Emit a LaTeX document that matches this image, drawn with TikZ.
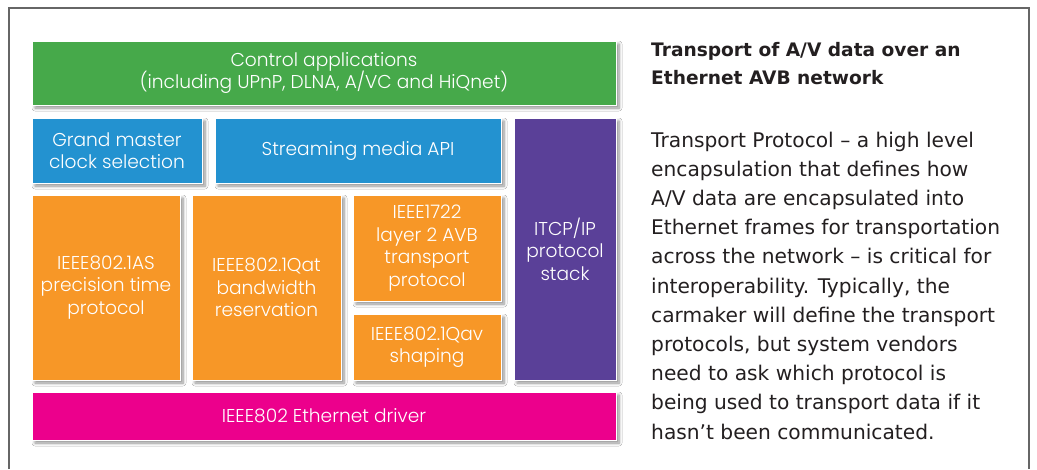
\documentclass[tikz,border=0pt]{standalone}
\usepackage{fontspec}
\setmainfont{DejaVu Sans}
\newfontfamily\boxfont{Poppins Light}
\usetikzlibrary{shadows.blur}
\definecolor{cgreen}{HTML}{46A94A}
\definecolor{cblue}{HTML}{2392D0}
\definecolor{cpurple}{HTML}{5A4098}
\definecolor{corange}{HTML}{F79727}
\definecolor{cmagenta}{HTML}{EC008C}
\definecolor{cframe}{HTML}{666666}
\definecolor{ctxt}{HTML}{231F20}
\begin{document}
\begin{tikzpicture}[x=1pt,y=-1pt,
  layer/.style={draw=white, line width=1pt, inner sep=0pt, outer sep=0pt,
    text=white, align=center, font=\boxfont\fontsize{18.6}{22.5}\selectfont,
    blur shadow={shadow xshift=3pt, shadow yshift=-3pt, shadow blur steps=6,
      shadow blur radius=3pt, shadow opacity=45}},
  caption/.style={anchor=north west, align=left, inner sep=0pt, text=ctxt}
]
\useasboundingbox (0,0) rectangle (1037,469);
\fill[white] (0,0) rectangle (1037,469);
\draw[cframe, line width=2pt] (9,469) -- (9,8) -- (1029,8) -- (1029,469);

\node[layer, fill=cgreen, minimum width=584pt, minimum height=64pt] (ctrl) at (324,73)
  {Control applications\\(including UPnP, DLNA, A/VC and HiQnet)};
\node[layer, fill=cblue, minimum width=170pt, minimum height=65pt] (gm) at (117,150.5)
  {Grand master\\clock selection};
\node[layer, fill=cblue, minimum width=286pt, minimum height=65pt] (api) at (358,150.5)
  {Streaming media API};
\node[layer, fill=cpurple, minimum width=102pt, minimum height=262pt] (itcp) at (565,249)
  {ITCP/IP\\protocol\\stack};
\node[layer, fill=corange, minimum width=148pt, minimum height=185pt] (as) at (106,287.5)
  {IEEE802.1AS\\precision time\\protocol};
\node[layer, fill=corange, minimum width=149pt, minimum height=185pt] (qat) at (266.5,287.5)
  {IEEE802.1Qat\\bandwidth\\reservation};
\node[layer, fill=corange, minimum width=148pt, minimum height=106pt] (avtp) at (427,248)
  {IEEE1722\\layer 2 AVB\\transport\\protocol};
\node[layer, fill=corange, minimum width=148pt, minimum height=66pt] (qav) at (427,347)
  {IEEE802.1Qav\\shaping};
\node[layer, fill=cmagenta, minimum width=584pt, minimum height=48pt] (eth) at (324,416)
  {IEEE802 Ethernet driver};

\node[caption, font=\bfseries\fontsize{18.6}{28}\selectfont] (title) at (651,42.5)
  {Transport of A/V data over an\\Ethernet AVB network};
\node[caption, font=\fontsize{20.2}{29.2}\selectfont] (body) at (651,131.5)
  {Transport Protocol -- a high level\\
   encapsulation that defines how\\
   A/V data are encapsulated into\\
   Ethernet frames for transportation\\
   across the network -- is critical for\\
   interoperability. Typically, the\\
   carmaker will define the transport\\
   protocols, but system vendors\\
   need to ask which protocol is\\
   being used to transport data if it\\
   hasn’t been communicated.};
\end{tikzpicture}
\end{document}
